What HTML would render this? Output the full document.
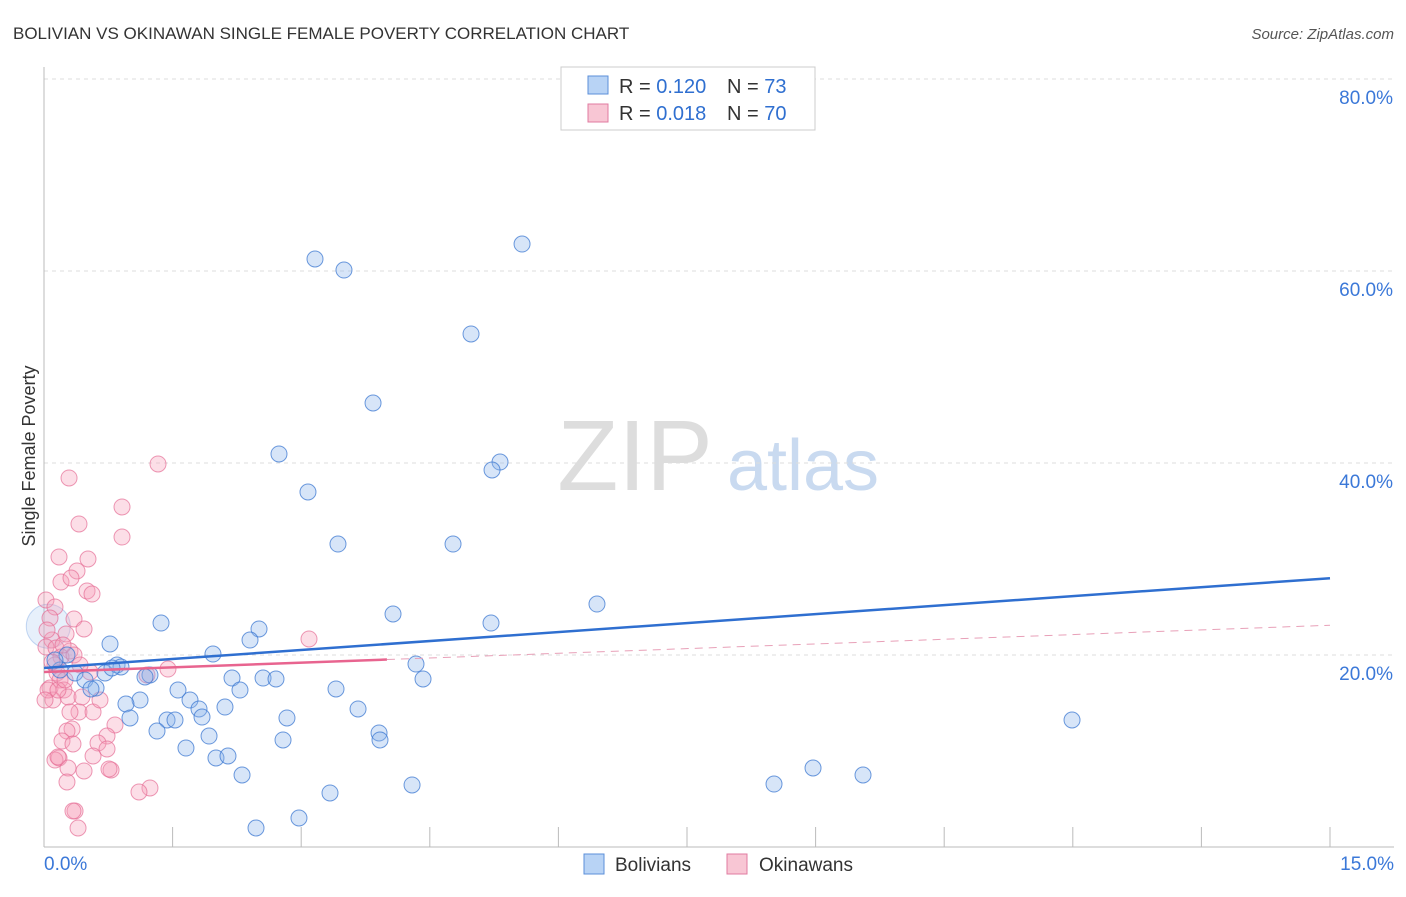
<!DOCTYPE html>
<html><head><meta charset="utf-8"><style>
body{margin:0;background:#fff;font-family:"Liberation Sans",sans-serif;}
svg text{font-family:"Liberation Sans",sans-serif;}
</style></head><body>
<svg width="1406" height="892" xmlns="http://www.w3.org/2000/svg">
<text x="13" y="39" font-size="17" fill="#333">BOLIVIAN VS OKINAWAN SINGLE FEMALE POVERTY CORRELATION CHART</text>
<text x="1394" y="39" font-size="15" fill="#555" text-anchor="end" font-style="italic">Source: ZipAtlas.com</text>
<text x="35" y="456" font-size="18" fill="#333" text-anchor="middle" transform="rotate(-90 35 456)">Single Female Poverty</text>
<g><text x="635" y="490" font-size="100" fill="#ddd" text-anchor="middle" font-family="Liberation Serif">ZIP</text><text x="803" y="490" font-size="72" fill="#c9daf0" text-anchor="middle">atlas</text></g>
<g id="grid"></g><g id="axes"></g><g id="marks"></g><g id="lines"></g>
<g>
<rect x="561" y="67" width="254" height="63" fill="#fff" stroke="#ccc"/>
<rect x="588" y="76" width="20" height="18" fill="#b8d3f5" stroke="#5b8fd9"/>
<text x="619" y="93" font-size="20" fill="#333">R = <tspan fill="#2f6fd0">0.120</tspan></text>
<text x="727" y="93" font-size="20" fill="#333">N = <tspan fill="#2f6fd0">73</tspan></text>
<rect x="588" y="104" width="20" height="18" fill="#f8c6d4" stroke="#e07ba0"/>
<text x="619" y="120" font-size="20" fill="#333">R = <tspan fill="#2f6fd0">0.018</tspan></text>
<text x="727" y="120" font-size="20" fill="#333">N = <tspan fill="#2f6fd0">70</tspan></text>
</g>
<g>
<rect x="584" y="854" width="20" height="20" fill="#b8d3f5" stroke="#5b8fd9"/>
<text x="615" y="871" font-size="19" fill="#333">Bolivians</text>
<rect x="727" y="854" width="20" height="20" fill="#f8c6d4" stroke="#e07ba0"/>
<text x="759" y="871" font-size="19" fill="#333">Okinawans</text>
</g>
</svg>
<script>
const yTicks=[20,40,60,80];
const yTickLabels=["20.0%","40.0%","60.0%","80.0%"];
const xTickLabels=["0.0%","15.0%"];
const bolPx=[[315,259],[344,270],[522,244],[471,334],[373,403],[279,454],[500,462],[492,470],[308,492],[338,544],[453,544],[597,604],[393,614],[491,623],[161,623],[259,629],[250,640],[110,644],[213,654],[117,665],[121,667],[150,675],[105,673],[75,673],[85,680],[96,688],[91,689],[178,690],[232,678],[263,678],[276,679],[240,690],[336,689],[190,700],[140,700],[126,704],[199,709],[202,717],[225,707],[358,709],[416,664],[423,679],[130,718],[167,720],[175,720],[157,731],[209,736],[287,718],[379,733],[380,740],[186,748],[283,740],[216,758],[228,756],[242,775],[1072,720],[813,768],[863,775],[774,784],[412,785],[330,793],[299,818],[256,828],[67,655],[60,670],[55,660],[112,668],[145,677]];
const okiPx=[[158,464],[69,478],[122,507],[79,524],[122,537],[59,557],[88,559],[77,571],[61,582],[71,578],[87,591],[92,594],[46,600],[55,607],[74,619],[50,618],[84,629],[66,634],[52,640],[46,647],[56,648],[70,651],[61,657],[74,655],[55,665],[309,639],[168,669],[147,675],[57,673],[60,680],[50,688],[64,690],[68,697],[53,700],[82,697],[79,712],[93,712],[70,712],[115,725],[72,729],[67,731],[107,736],[62,741],[73,744],[98,743],[107,749],[93,756],[59,758],[68,768],[84,771],[111,770],[109,769],[67,782],[150,788],[139,792],[75,811],[73,811],[78,828],[55,760],[58,757],[48,690],[45,700],[52,662],[63,645],[58,690],[90,672],[65,680],[80,665],[100,700],[47,630]];
const bolX=bolPx.map(p=>+((p[0]-44)/85.73).toFixed(3));
const bolY=bolPx.map(p=>+((847-p[1])/9.6).toFixed(2));
const okiX=okiPx.map(p=>+((p[0]-44)/85.73).toFixed(3));
const okiY=okiPx.map(p=>+((847-p[1])/9.6).toFixed(2));
const bolTrend=[18.65,28.0];
const okiTrend=[18.23,23.1];
const NS="http://www.w3.org/2000/svg";
const sx=v=>44+v*(1286/15), sy=v=>847-v*9.6;
function mk(t,a,p){const e=document.createElementNS(NS,t);for(const k in a)e.setAttribute(k,a[k]);p.appendChild(e);return e;}
const grid=document.getElementById('grid'),axes=document.getElementById('axes'),marks=document.getElementById('marks'),lines=document.getElementById('lines');
yTicks.forEach((v,i)=>{
 const l=mk('line',{x1:44,x2:1394,y1:sy(v),y2:sy(v),stroke:'#ddd','stroke-dasharray':'4,4'},grid);
 
 
 const t=mk('text',{x:1393,y:sy(v)+25,'font-size':19,fill:'#3b78d8','text-anchor':'end'},axes);
 t.textContent=yTickLabels[i];
 
 
});
mk('line',{x1:44,x2:44,y1:67,y2:847,stroke:'#bbb'},axes);
mk('line',{x1:44,x2:1394,y1:847,y2:847,stroke:'#bbb'},axes);
for(let i=1;i<=10;i++){const x=sx(i*1.5);mk('line',{x1:x,x2:x,y1:827,y2:847,stroke:'#bbb'},axes);}
const xl0=mk('text',{x:44,y:870,'font-size':19,fill:'#3b78d8'},axes);xl0.textContent=xTickLabels[0];


const xl1=mk('text',{x:1394,y:870,'font-size':19,fill:'#3b78d8','text-anchor':'end'},axes);xl1.textContent=xTickLabels[1];


const bb=mk('circle',{cx:sx(0.05),cy:sy(23),r:22,fill:'rgba(160,195,240,0.25)',stroke:'rgba(70,130,215,0.3)'},marks);


okiX.forEach((x,i)=>{const c=mk('circle',{cx:sx(x),cy:sy(okiY[i]),r:8,fill:'rgba(245,160,185,0.35)',stroke:'rgba(230,110,150,0.7)'},marks);
 
 });
bolX.forEach((x,i)=>{const c=mk('circle',{cx:sx(x),cy:sy(bolY[i]),r:8,fill:'rgba(140,180,235,0.35)',stroke:'rgba(60,120,210,0.75)'},marks);
 
 });
const bl=mk('line',{x1:sx(0),y1:sy(bolTrend[0]),x2:sx(15),y2:sy(bolTrend[1]),stroke:'#2f6fd0','stroke-width':2.5},lines);


const oy=x=>okiTrend[0]+(okiTrend[1]-okiTrend[0])*x/15;
const ol=mk('line',{x1:sx(0),y1:sy(oy(0)),x2:sx(4),y2:sy(oy(4)),stroke:'#e8648f','stroke-width':2.5},lines);


const od=mk('line',{x1:sx(4),y1:sy(oy(4)),x2:sx(15),y2:sy(oy(15)),stroke:'#e8a0b8','stroke-width':1,'stroke-dasharray':'8,6'},lines);


</script>
</body></html>
